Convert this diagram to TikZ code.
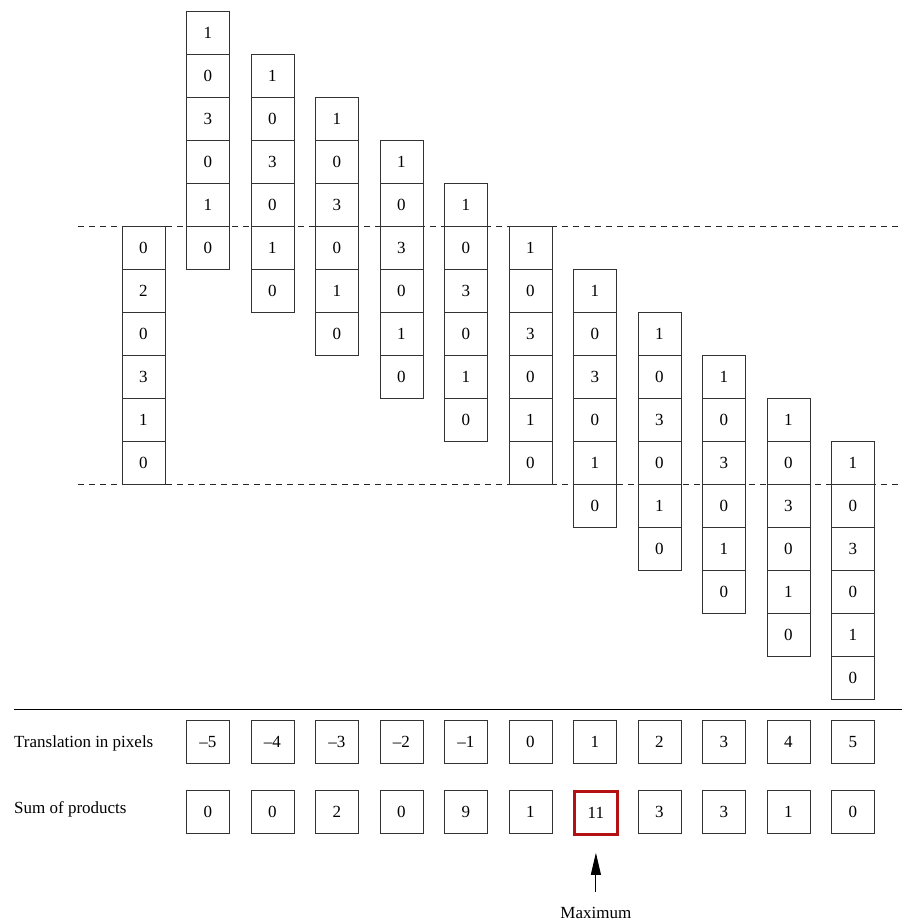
\documentclass[tikz,border=0pt]{standalone}
\usepackage{fontspec}
\setmainfont{Liberation Serif}
\usetikzlibrary{arrows.meta}
\definecolor{maxred}{RGB}{180,18,18}
\begin{document}
\begin{tikzpicture}[x=1pt,y=-1pt,
  txt/.style={font=\fontsize{17}{20}\selectfont},
  cell/.style={txt, draw=black!80, line width=0.9pt, minimum width=43pt, minimum height=43pt, inner sep=0pt, anchor=north west},
  maxcell/.style={cell, draw=maxred, line width=2.8pt},
  lbl/.style={txt, anchor=base west, inner sep=0pt},
  guide/.style={dash pattern=on 6pt off 5pt, line width=0.8pt, draw=black!85},
  rule/.style={line width=1pt}
]
\useasboundingbox (0,0) rectangle (902,922);

% dashed guide lines
\coordinate (gtl) at (78,226);
\coordinate (gtr) at (902,226);
\coordinate (gbl) at (78,484);
\coordinate (gbr) at (902,484);
\draw[guide] (gtl) -- (gtr);
\draw[guide] (gbl) -- (gbr);

% reference column
\foreach \v [count=\j from 0] in {0,2,0,3,1,0}
  \node[cell] (r\j) at (121.5,{226+43*\j}) {\v};

% shifted columns
\foreach \k in {0,...,10}
  \foreach \v [count=\j from 0] in {1,0,3,0,1,0}
    \node[cell] (s\k-\j) at ({186+64.5*\k},{11+43*\k+43*\j}) {\v};

% separator
\coordinate (sepl) at (14,709.5);
\coordinate (sepr) at (902,709.5);
\draw[rule] (sepl) -- (sepr);

% rows
\node[lbl] (tlabel) at (14,747) {Translation in pixels};
\node[lbl] (slabel) at (14,813) {Sum of products};

\foreach \t [count=\k from 0] in {–5,–4,–3,–2,–1,0,1,2,3,4,5}
  \node[cell] (t\k) at ({186+64.5*\k},720) {\t};

\foreach \s/\st [count=\k from 0] in {0/cell,0/cell,2/cell,0/cell,9/cell,1/cell,11/maxcell,3/cell,3/cell,1/cell,0/cell}
  \node[\st] (p\k) at ({186+64.5*\k},790) {\s};

% maximum marker
\node[txt, anchor=base, inner sep=0pt] (maxlabel) at (p6.center |- 0,918) {Maximum};
\coordinate (arrowfoot) at (p6.center |- 0,892);
\draw[line width=0.9pt, -{Triangle[length=22pt,width=10pt]}] (arrowfoot) -- ([yshift=-17pt]p6.south);
\end{tikzpicture}
\end{document}
